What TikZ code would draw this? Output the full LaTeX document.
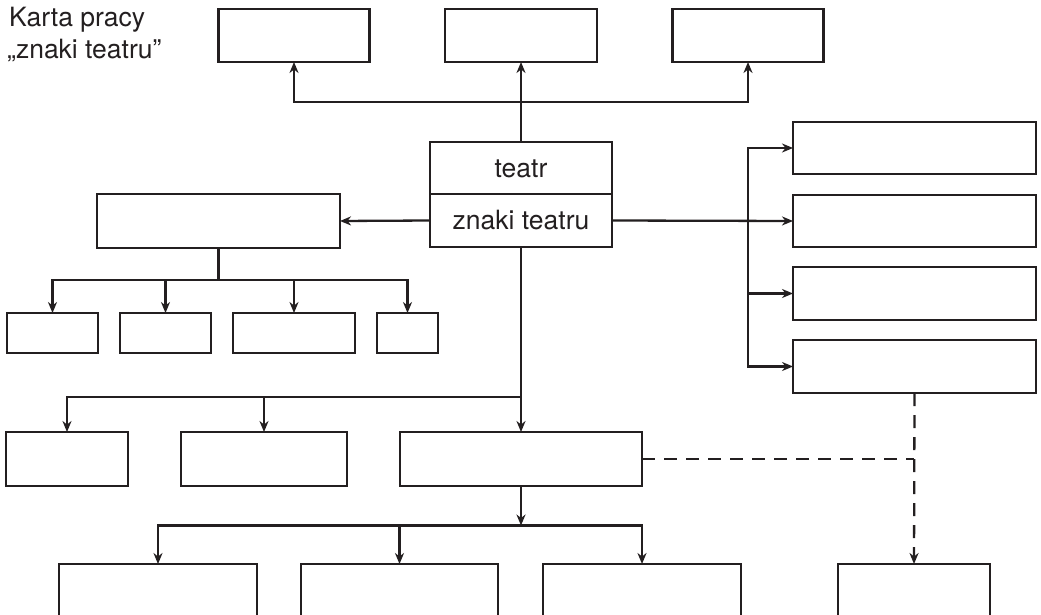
\documentclass[tikz,border=0pt]{standalone}
\usepackage{fontspec}
\setmainfont{TeX Gyre Heros}
\usetikzlibrary{arrows.meta}
\definecolor{ink}{RGB}{35,31,32}
\tikzset{
  box/.style={draw=ink, line width=2.6pt, rectangle, inner sep=0pt, outer sep=0pt, fill=white},
  conn/.style={draw=ink, line width=2.3pt},
  tip/.style={-{Stealth[length=11pt,width=9pt,inset=3.5pt]}},
  arr/.style={conn, tip},
  dashconn/.style={conn, dash pattern=on 13pt off 9pt},
  lbl/.style={font=\fontsize{26.5}{32}\selectfont, text=ink},
}
\begin{document}
\begin{tikzpicture}[x=1pt,y=-1pt]
\useasboundingbox (0,0) rectangle (1041,615);
\clip (0,0) rectangle (1041,615);
\fill[white] (0,0) rectangle (1041,615);

% title
\node[lbl, anchor=base west, inner sep=0pt] (title1) at (9,27) {Karta pracy};
\node[lbl, anchor=base west, inner sep=0pt] (title2) at (7,59) {„znaki teatru”};

% top boxes
\node[box, minimum width=151pt, minimum height=53pt] (t1) at (294,35.5) {};
\node[box, minimum width=152pt, minimum height=53pt] (t2) at (521,35.5) {};
\node[box, minimum width=151pt, minimum height=53pt] (t3) at (748,35.5) {};

% centre
\node[box, lbl, minimum width=182pt, minimum height=52pt, text height=18.5pt, text depth=0pt] (ct) at (521,168) {teatr};
\node[box, lbl, minimum width=182pt, minimum height=53pt, text height=18.5pt, text depth=0pt] (cz) at (521,220.5) {znaki teatru};

% left middle
\node[box, minimum width=243pt, minimum height=54pt] (lm) at (218.5,221) {};
\node[box, minimum width=91pt, minimum height=40pt] (s1) at (52.5,333) {};
\node[box, minimum width=91pt, minimum height=40pt] (s2) at (165.5,333) {};
\node[box, minimum width=122pt, minimum height=40pt] (s3) at (294,333) {};
\node[box, minimum width=61pt, minimum height=40pt] (s4) at (407.5,333) {};

% right column
\node[box, minimum width=243pt, minimum height=52pt] (r1) at (914.5,148) {};
\node[box, minimum width=243pt, minimum height=52pt] (r2) at (914.5,221) {};
\node[box, minimum width=243pt, minimum height=53pt] (r3) at (914.5,293.5) {};
\node[box, minimum width=243pt, minimum height=53pt] (r4) at (914.5,366.5) {};

% middle row
\node[box, minimum width=122pt, minimum height=54pt] (m1) at (67,459) {};
\node[box, minimum width=166pt, minimum height=54pt] (m2) at (264,459) {};
\node[box, minimum width=242pt, minimum height=54pt] (m3) at (521,459) {};

% bottom row (running off the page)
\node[box, minimum width=198pt, minimum height=120pt] (b1) at (158,624) {};
\node[box, minimum width=197pt, minimum height=120pt] (b2) at (399.5,624) {};
\node[box, minimum width=198pt, minimum height=120pt] (b3) at (642,624) {};
\node[box, minimum width=152pt, minimum height=120pt] (b4) at (914,624) {};

% junction coordinates
\coordinate (topj) at (521,102);
\coordinate (rj) at (748,221);
\coordinate (lj) at (218.5,280);
\coordinate (mj) at (521,397);
\coordinate (bj) at (521,525.5);
\coordinate (dj) at (914,459);

% connectors
\draw[arr] (ct.north) -- (t2.south);
\draw[arr] (topj) -| (t1.south);
\draw[arr] (topj) -| (t3.south);

\draw[arr] (cz.west) -- (lm.east);
\draw[conn] (lm.south) -- (lj);
\draw[arr] (lj) -| (s1.north);
\draw[arr] (lj) -| (s2.north);
\draw[arr] (lj) -| (s3.north);
\draw[arr] (lj) -| (s4.north);

\draw[arr] (cz.east) -- (r2.west);
\draw[arr] (rj) |- (r1.west);
\draw[arr] (rj) |- (r3.west);
\draw[arr] (rj) |- (r4.west);

\draw[arr] (cz.south) -- (m3.north);
\draw[arr] (mj) -| (m1.north);
\draw[arr] (mj) -| (m2.north);

\draw[arr] (m3.south) -- (bj);
\draw[arr] (bj) -| (b1.north);
\draw[arr] (bj) -- (bj -| b2.north) -- (b2.north);
\draw[arr] (bj) -| (b3.north);

\draw[dashconn] (m3.east) -- (dj);
\draw[dashconn, tip] (r4.south) -- (b4.north);
\end{tikzpicture}
\end{document}
